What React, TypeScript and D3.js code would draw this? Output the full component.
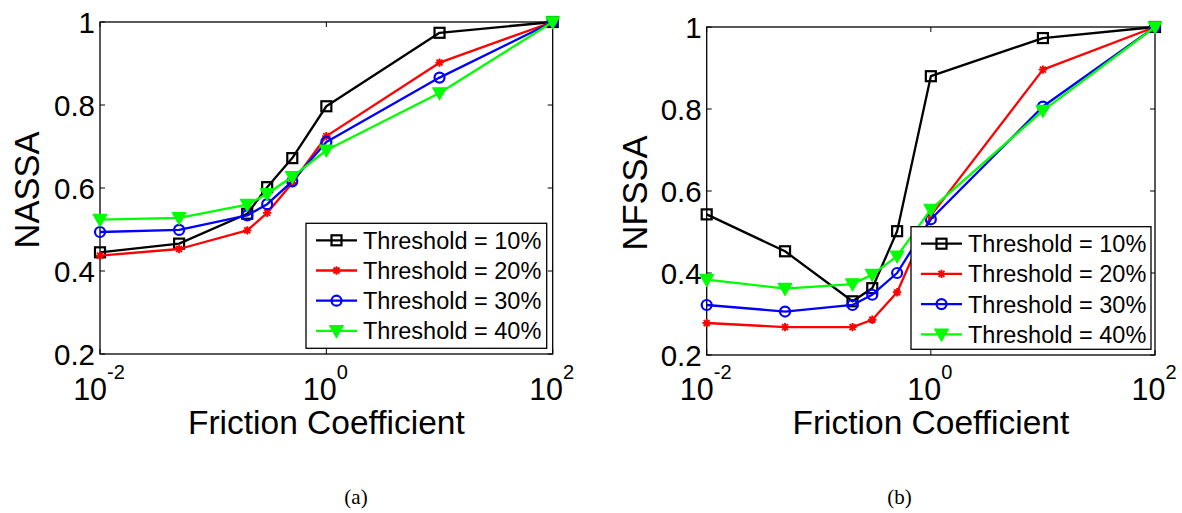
import React from "react";
import * as d3 from "d3";

// ---------- data ----------
const frictionCoefficients = [0.01, 0.05, 0.2, 0.3, 0.5, 1, 10, 100];

const nassa10 = [0.445, 0.466, 0.538, 0.602, 0.672, 0.797, 0.974, 1.0];
const nassa20 = [0.437, 0.453, 0.498, 0.54, 0.612, 0.725, 0.902, 1.0];
const nassa30 = [0.494, 0.499, 0.534, 0.561, 0.616, 0.711, 0.866, 1.0];
const nassa40 = [0.524, 0.528, 0.56, 0.586, 0.627, 0.691, 0.829, 1.0];

const nfssa10 = [0.543, 0.453, 0.331, 0.363, 0.502, 0.88, 0.973, 1.0];
const nfssa20 = [0.278, 0.268, 0.268, 0.286, 0.353, 0.54, 0.896, 1.0];
const nfssa30 = [0.322, 0.306, 0.322, 0.347, 0.4, 0.531, 0.806, 1.0];
const nfssa40 = [0.384, 0.362, 0.373, 0.396, 0.441, 0.555, 0.796, 1.0];

const seriesNames = ["Threshold = 10%", "Threshold = 20%", "Threshold = 30%", "Threshold = 40%"];
const seriesColors = ["#000000", "#ff0000", "#0000ff", "#00ff00"];
const seriesMarkers = ["square", "asterisk", "circle", "triangleDown"];

const xTickValues = [0.01, 1, 100];
const xTickExponents = ["-2", "0", "2"];
const yTickValues = [0.2, 0.4, 0.6, 0.8, 1.0];
const yTickLabels = ["0.2", "0.4", "0.6", "0.8", "1"];

const FONT = "'Liberation Sans', Arial, Helvetica, sans-serif";

function Marker({ type, x, y, color }: { type: string; x: number; y: number; color: string }) {
  if (type === "square") {
    return <rect x={x - 5} y={y - 5} width={10} height={10} fill="none" stroke={color} strokeWidth={2.2} />;
  }
  if (type === "circle") {
    return <circle cx={x} cy={y} r={5} fill="none" stroke={color} strokeWidth={2.2} />;
  }
  if (type === "triangleDown") {
    const p = `M${x - 6.8},${y - 5.2} L${x + 6.8},${y - 5.2} L${x},${y + 6.8} Z`;
    return <path d={p} fill={color} stroke={color} strokeWidth={1.2} strokeLinejoin="round" />;
  }
  // asterisk
  const r = 4.2;
  const d = r * 0.707;
  const p = `M${x - r},${y} L${x + r},${y} M${x},${y - r} L${x},${y + r} M${x - d},${y - d} L${x + d},${y + d} M${x - d},${y + d} L${x + d},${y - d}`;
  return <path d={p} fill="none" stroke={color} strokeWidth={1.9} />;
}

type PanelProps = {
  left: number;
  right: number;
  top: number;
  bottom: number;
  series: number[][];
  yLabel: string;
  yLabelX: number;
  caption: string;
  captionX: number;
  legend: { x: number; y: number; w: number; h: number };
};

function Panel({ left, right, top, bottom, series, yLabel, yLabelX, caption, captionX, legend }: PanelProps) {
  const x = d3.scaleLog().domain([0.01, 100]).range([left, right]);
  const y = d3.scaleLinear().domain([0.2, 1.0]).range([bottom, top]);
  const line = d3
    .line<number>()
    .x((_, i) => x(frictionCoefficients[i]))
    .y((v) => y(v));
  const tick = 5;
  const midX = (left + right) / 2;
  const midY = (top + bottom) / 2;

  return (
    <g>
      {/* axes box */}
      <rect x={left} y={top} width={right - left} height={bottom - top} fill="white" stroke="#000" strokeWidth={1.3} />
      {/* ticks */}
      {xTickValues.map((v, i) => (
        <g key={"xt" + i}>
          <line x1={x(v)} x2={x(v)} y1={bottom} y2={bottom - tick} stroke="#000" strokeWidth={1} />
          <line x1={x(v)} x2={x(v)} y1={top} y2={top + tick} stroke="#000" strokeWidth={1} />
          <text x={x(v) - 1} y={400} fontFamily={FONT} fontSize={30.5} textAnchor="middle" fill="#000">
            <tspan>10</tspan>
            <tspan fontSize={20} dy={-21}>{xTickExponents[i]}</tspan>
          </text>
        </g>
      ))}
      {yTickValues.map((v, i) => (
        <g key={"yt" + i}>
          <line x1={left} x2={left + tick} y1={y(v)} y2={y(v)} stroke="#000" strokeWidth={1} />
          <line x1={right} x2={right - tick} y1={y(v)} y2={y(v)} stroke="#000" strokeWidth={1} />
          <text x={left - 5} y={y(v) + 10.5} fontFamily={FONT} fontSize={29.5} textAnchor="end" fill="#000">
            {yTickLabels[i]}
          </text>
        </g>
      ))}
      {/* series */}
      {series.map((vals, s) => (
        <g key={"s" + s}>
          <path d={line(vals) || ""} fill="none" stroke={seriesColors[s]} strokeWidth={2.3} strokeLinejoin="round" />
          {vals.map((v, i) => (
            <Marker key={i} type={seriesMarkers[s]} x={x(frictionCoefficients[i])} y={y(v)} color={seriesColors[s]} />
          ))}
        </g>
      ))}
      {/* legend */}
      <rect x={legend.x} y={legend.y} width={legend.w} height={legend.h} fill="white" stroke="#000" strokeWidth={1.3} />
      {seriesNames.map((name, s) => {
        const cy = legend.y + 17 + s * 30.2;
        const lx0 = legend.x + 10;
        const lx1 = legend.x + 51;
        return (
          <g key={"lg" + s}>
            <line x1={lx0} x2={lx1} y1={cy} y2={cy} stroke={seriesColors[s]} strokeWidth={2.3} />
            <Marker type={seriesMarkers[s]} x={(lx0 + lx1) / 2} y={cy} color={seriesColors[s]} />
            <text x={legend.x + 57} y={cy + 8.5} fontFamily={FONT} fontSize={23.5} fill="#000">
              {name}
            </text>
          </g>
        );
      })}
      {/* axis labels */}
      <text x={midX} y={434} fontFamily={FONT} fontSize={33.5} textAnchor="middle" fill="#000">
        Friction Coefficient
      </text>
      <text
        transform={`translate(${yLabelX},${midY + 2}) rotate(-90)`}
        fontFamily={FONT}
        fontSize={34.5}
        textAnchor="middle"
        fill="#000"
      >
        {yLabel}
      </text>
      <text x={captionX} y={504} fontFamily="'Liberation Serif', 'Times New Roman', serif" fontSize={21} textAnchor="middle" fill="#000">
        {caption}
      </text>
    </g>
  );
}

export default function App() {
  return (
    <svg
      width={1182}
      height={513}
      viewBox="0 0 1182 513"
      style={{ position: "absolute", left: 0, top: 0, background: "white" }}
    >
      <rect x={0} y={0} width={1182} height={513} fill="white" />
      <Panel
        left={100}
        right={552.7}
        top={22}
        bottom={354}
        series={[nassa10, nassa20, nassa30, nassa40]}
        yLabel="NASSA"
        yLabelX={39}
        caption="(a)"
        captionX={356}
        legend={{ x: 306, y: 223.3, w: 240.7, h: 125 }}
      />
      <Panel
        left={706.7}
        right={1155}
        top={27}
        bottom={355}
        series={[nfssa10, nfssa20, nfssa30, nfssa40]}
        yLabel="NFSSA"
        yLabelX={647}
        caption="(b)"
        captionX={899.5}
        legend={{ x: 911, y: 226.7, w: 240, h: 122.6 }}
      />
    </svg>
  );
}
